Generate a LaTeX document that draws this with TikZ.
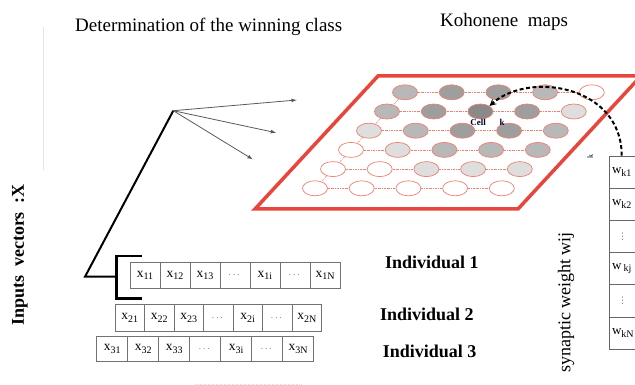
\documentclass[tikz,border=0pt]{standalone}
\usepackage{fontspec}
\setmainfont{Liberation Serif}
\newfontfamily\symfont{DejaVu Sans}
\usepackage{amsmath}
\usepackage{tikz}
\usetikzlibrary{shapes.geometric, arrows}
\definecolor{mapred}{RGB}{232,69,60}
\definecolor{cellred}{RGB}{238,128,112}
\definecolor{c0}{RGB}{255,255,255}
\definecolor{c1}{RGB}{222,222,222}
\definecolor{c2}{RGB}{184,184,184}
\definecolor{c3}{RGB}{158,158,158}
\definecolor{c4}{RGB}{138,138,138}
\tikzstyle{title} = [anchor=base west, inner sep=0pt, font=\fontsize{19}{22}\selectfont]
\tikzstyle{indiv} = [anchor=base west, inner sep=0pt, font=\fontsize{18}{21}\selectfont\bfseries]
\tikzstyle{unit} = [ellipse, draw=cellred, line width=0.7pt, minimum width=25pt, minimum height=15pt, inner sep=0pt]
\tikzstyle{link} = [draw=cellred, line width=0.6pt, dash pattern=on 2pt off 1pt on 0.6pt off 1pt]
\tikzstyle{xcell} = [rectangle, draw=black!55, line width=0.8pt, inner sep=0pt, font=\fontsize{13.5}{15}\selectfont]
\tikzstyle{wcell} = [rectangle, draw=black!60, line width=0.8pt, minimum width=36pt, minimum height=32.2pt, text width=30pt, inner xsep=3pt, align=left, font=\fontsize{13}{15}\selectfont]
\tikzstyle{stem} = [line width=2pt, black]
\tikzstyle{ray} = [draw=black!65, line width=0.8pt, ->, >=latex]
\tikzstyle{weightarrow} = [line width=2pt, dash pattern=on 4pt off 2.5pt, ->, >=stealth]
\newcommand{\xsub}[1]{\raisebox{-2.6pt}{\fontsize{10}{11}\selectfont #1}}
\newcommand{\cdotcell}{\textcolor{black!55}{\fontsize{10}{11}\selectfont$\cdots$}}
\newcommand{\vdotcell}{\hspace*{6pt}\textcolor{black!55}{\symfont\fontsize{9}{10}\selectfont ⋮}}

\begin{document}
\begin{tikzpicture}[x=1pt, y=-1pt, node distance=2cm, auto]
	\useasboundingbox (0,0) rectangle (635,385);
	\draw [black!10, line width=0.6pt] (43,27) -- (43,170);
	\draw [black!12, line width=0.6pt, densely dotted] (195,384) -- (302,384);

	\node (wintitle) [title] at (75,31.7) {Determination of the winning class};
	\node (maptitle) [title] at (440,26.7) {Kohonene~ maps};
	\node (inputs) [rotate=90, font=\fontsize{18}{21}\selectfont\bfseries] at (20,255) {Inputs~ vectors~ :X};
	\node (synlabel) [rotate=90, font=\fontsize{18}{21}\selectfont] at (566,302.5) {synaptic weight wij};

	\draw [mapred, line width=3.5pt, line join=miter] (255,209) -- (518,209) -- (641,76) -- (378,76) -- cycle;
	\foreach \r/\fills in {1/{c2,c3,c3,c2,c0}, 2/{c2,c3,c4,c3,c1}, 3/{c1,c2,c3,c3,c2}, 4/{c0,c1,c2,c2,c2}, 5/{c0,c0,c1,c1,c1}, 6/{c0,c0,c0,c0,c0}}
		\foreach \f [count=\c] in \fills
			\node (m\r\c) [unit, fill=\f] at (405-18*\r+18+46.7*\c-46.7, 92.3+19.2*\r-19.2) {};
	\foreach \r in {1,...,6}
		\foreach \c [count=\d from 2] in {1,...,4}
			\draw [link] (m\r\c) -- (m\r\d);
	\foreach \r [count=\s from 2] in {1,...,5}
		\draw [link] (m\r1) -- (m\s1);
	\node (celltext) [font=\fontsize{9}{10}\selectfont\bfseries, text=black!80!blue] at (478,122) {Cell};
	\node (ktext) [font=\fontsize{9}{10}\selectfont\bfseries, text=black!80!blue] at (502,122) {k};
	\node (kside) [rotate=90, font=\fontsize{8}{9}\selectfont] at (590,157) {k};

	\foreach \lab [count=\i] in {w\xsub{k1}, w\xsub{k2}, \vdotcell, w\,\xsub{kj}, \vdotcell, w\xsub{kN}}
		\node (w\i) [wcell] at (627,139.9+32.2*\i) {\lab};
	\draw [weightarrow] ([xshift=-5.3pt]w1.north) .. controls +(0,-70) and +(40,-35) .. (m23.north east);

	\foreach \lab [count=\i] in {x\xsub{11}, x\xsub{12}, x\xsub{13}, \cdotcell, x\xsub{1i}, \cdotcell, x\xsub{1N}}
		\node (indA\i) [xcell, minimum width=30pt, minimum height=25.6pt] at (115+30*\i,275.5) {\lab};
	\foreach \lab [count=\i] in {x\xsub{21}, x\xsub{22}, x\xsub{23}, \cdotcell, x\xsub{2i}, \cdotcell, x\xsub{2N}}
		\node (indB\i) [xcell, minimum width=29.5pt, minimum height=27.4pt] at (100.25+29.5*\i,318) {\lab};
	\foreach \lab [count=\i] in {x\xsub{31}, x\xsub{32}, x\xsub{33}, \cdotcell, x\xsub{3i}, \cdotcell, x\xsub{3N}}
		\node (indC\i) [xcell, minimum width=31pt, minimum height=25pt] at (81.2+31*\i,349.2) {\lab};

	\coordinate (apex) at (173.3,110.7);
	\coordinate (knee) at (85,276.7);
	\coordinate (brk) at (116.7,276.7);
	\coordinate (ray1) at (296.7,100);
	\coordinate (ray2) at (276,132.7);
	\coordinate (ray3) at (252.7,159.3);
	\draw [stem, line width=2.5pt] (141.7,256) -- (116.7,256) -- (116.7,298.3) -- (141.7,298.3);
	\draw [stem] (brk) -- (knee) -- (apex);
	\draw [ray] (apex) -- (ray1);
	\draw [ray] (apex) -- (ray2);
	\draw [ray] (apex) -- (ray3);

	\node (ind1) [indiv] at (385,268.3) {Individual 1};
	\node (ind2) [indiv] at (380,320) {Individual 2};
	\node (ind3) [indiv] at (382.7,357.7) {Individual 3};
\end{tikzpicture}
\end{document}
